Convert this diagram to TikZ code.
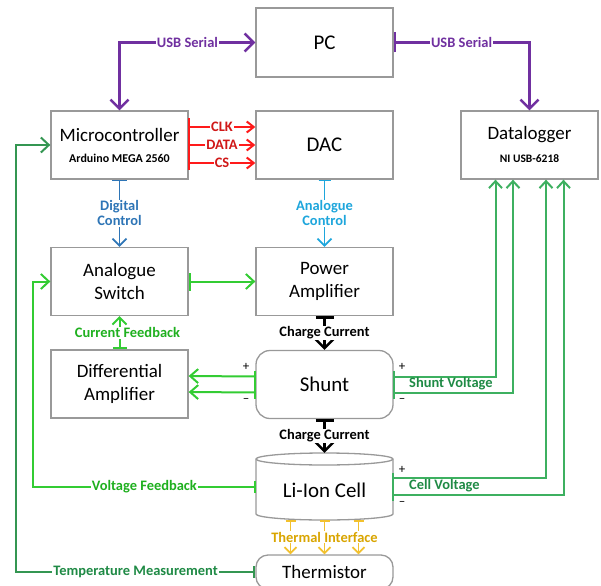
\documentclass[tikz,border=0pt]{standalone}
\usepackage{fontspec}
\setmainfont{Carlito}
\usetikzlibrary{arrows.meta}
\definecolor{cpurple}{HTML}{7030A0}
\definecolor{cred}{HTML}{FF1A1A}
\definecolor{credt}{HTML}{D01818}
\definecolor{cdblue}{HTML}{2E75B6}
\definecolor{clblue}{HTML}{1EA6DC}
\definecolor{cbgreen}{HTML}{33CC33}
\definecolor{cbgreent}{HTML}{1FB01F}
\definecolor{cmgreen}{HTML}{3DB060}
\definecolor{cmgreent}{HTML}{1F8A45}
\definecolor{cgold}{HTML}{F2C12E}
\definecolor{cgoldt}{HTML}{D9A500}
\definecolor{cborder}{HTML}{999999}
\tikzset{
  box/.style={draw=cborder, line width=1.3bp, fill=white, minimum width=137bp,
    minimum height=68bp, inner sep=0pt, align=center, font=\fontsize{19}{23}\selectfont},
  bigtxt/.style={font=\fontsize{21}{25}\selectfont},
  lab/.style={font=\bfseries\fontsize{14.5}{15}\selectfont, fill=white, inner sep=1bp, align=center},
  sign/.style={font=\fontsize{13}{14}\selectfont, inner sep=0pt},
  purplewire/.style={draw=cpurple, line width=2.5bp},
  redwire/.style={draw=cred, line width=2bp, -{Straight Barb[length=7bp,width=11bp]}},
  bgwire/.style={draw=cbgreen, line width=2bp},
  mgwire/.style={draw=cmgreen, line width=2bp},
  blackwire/.style={draw=black, line width=2.5bp, {Bar[width=18bp]}-{Straight Barb[length=9bp,width=18bp]}},
  goldwire/.style={draw=cgold, line width=1.8bp, {Bar[width=10bp]}-{Straight Barb[length=6bp,width=12bp]}},
}
\begin{document}
\begin{tikzpicture}[x=1bp,y=-1bp]
\useasboundingbox (0,0) rectangle (601,586);
% boxes
\node[box, bigtxt, minimum height=69bp] (pc) at (324.5,42.5) {PC};
\node[box] (mc) at (119.5,145) {};
\node[inner sep=0pt] (mct) at (119.5,135) {\fontsize{19}{23}\selectfont Microcontroller};
\node[inner sep=0pt] (mcs) at (119.5,158) {\bfseries\fontsize{12}{13}\selectfont Arduino MEGA 2560};
\node[box, bigtxt] (dac) at (324.5,145) {DAC};
\node[box] (dl) at (529.5,145) {};
\node[inner sep=0pt] (dlt) at (529.5,135) {\fontsize{19}{23}\selectfont Datalogger};
\node[inner sep=0pt] (dls) at (529.5,159) {\bfseries\fontsize{11.5}{13}\selectfont NI USB-6218};
\node[box] (as) at (119.5,281.5) {Analogue\\Switch};
\node[box] (pa) at (324.5,281.5) {Power\\Amplifier};
\node[box] (da) at (119.5,384) {Differential\\Amplifier};
\node[box, bigtxt, rounded corners=14bp] (sh) at (324.5,384.5) {Shunt};
% cylinder
\path[draw=cborder, line width=1.3bp, fill=white] (256,459) -- (256,514)
  arc[start angle=180, end angle=0, x radius=68.5, y radius=6] -- (393,459)
  arc[start angle=0, end angle=-180, x radius=68.5, y radius=6] -- cycle;
\draw[cborder, line width=1.3bp] (256,459) arc[start angle=180, end angle=0, x radius=68.5, y radius=6];
\node[minimum width=137bp, minimum height=67bp, inner sep=0pt] (cell) at (324.5,486.5) {};
\node[bigtxt, inner sep=0pt] (cellt) at (324.5,490) {Li-Ion Cell};
\node[box, rounded corners=12bp, minimum height=34bp] (th) at (324.5,572) {Thermistor};
% USB serial
\draw[purplewire, {Straight Barb[length=9bp,width=18bp]}-{Straight Barb[length=9bp,width=18bp]}]
  (pc.west) -| node[pos=0.25, lab, text=cpurple] (usb1) {USB Serial} (mc.north);
\draw[purplewire, {Bar[width=20bp]}-{Straight Barb[length=9bp,width=18bp]}]
  (pc.east) -| node[pos=0.25, lab, text=cpurple] (usb2) {USB Serial} (dl.north);
% CLK DATA CS
\draw[redwire] ([yshift=18bp]mc.east) -- node[lab, text=credt] (clk) {CLK} ([yshift=18bp]dac.west);
\draw[redwire] (mc.east) -- node[lab, text=credt] (data) {DATA} (dac.west);
\draw[redwire] ([yshift=-18bp]mc.east) -- node[lab, text=credt] (cs) {CS} ([yshift=-18bp]dac.west);
\draw[cred, line width=2bp] ([yshift=27bp]mc.east) -- ([yshift=-25bp]mc.east);
% controls
\draw[draw=cdblue, line width=1.8bp, {Bar[width=15bp]}-{Straight Barb[length=7bp,width=14bp]}]
  (mc.south) -- node[lab, text=cdblue] (dctl) {Digital\\Control} (as.north);
\draw[draw=clblue, line width=1.8bp, {Bar[width=12bp]}-{Straight Barb[length=7bp,width=14bp]}]
  (dac.south) -- node[lab, text=clblue] (actl) {Analogue\\Control} (pa.north);
% analogue switch to power amp
\draw[bgwire, {Bar[width=18bp]}-{Straight Barb[length=8bp,width=15bp]}] (as.east) -- (pa.west);
% current feedback
\draw[bgwire, {Bar[width=14bp]}-{Straight Barb[length=7bp,width=14bp]}]
  (da.north) -- node[lab, text=cbgreent, xshift=8bp] (cfb) {Current Feedback} (as.south);
% charge current
\draw[blackwire] (pa.south) -- node[lab] (cc1) {Charge Current} (sh.north);
\draw[blackwire] (sh.south) -- node[lab] (cc2) {Charge Current} (cell.north);
% shunt to differential amplifier
\draw[bgwire, -{Straight Barb[length=8bp,width=14bp]}] ([yshift=8bp]sh.west) -- ([yshift=8bp]da.east);
\draw[bgwire, -{Straight Barb[length=8bp,width=14bp]}] ([yshift=-8bp]sh.west) -- ([yshift=-8bp]da.east);
\draw[bgwire] ([yshift=14bp]sh.west) -- ([yshift=-14bp]sh.west);
\node[sign] (pl1) at (246,367) {+};
\node[sign] (mi1) at (246,400) {\textendash};
% shunt voltage to datalogger
\draw[mgwire, -{Straight Barb[length=7bp,width=13bp]}] ([yshift=8bp]sh.east) -| ([xshift=-34bp]dl.south);
\draw[mgwire, -{Straight Barb[length=7bp,width=13bp]}] ([yshift=-8bp]sh.east) -| ([xshift=-16.5bp]dl.south);
\draw[mgwire] ([yshift=14bp]sh.east) -- ([yshift=-14bp]sh.east);
\node[sign] (pl2) at (402,367) {+};
\node[sign] (mi2) at (402,400) {\textendash};
\node[font=\bfseries\fontsize{14.5}{15}\selectfont, text=cmgreent, anchor=west, inner sep=0pt] (shv) at (409,384) {Shunt Voltage};
% cell voltage to datalogger
\draw[mgwire, -{Straight Barb[length=7bp,width=13bp]}] ([yshift=8.5bp]cell.east) -| ([xshift=16.5bp]dl.south);
\draw[mgwire, -{Straight Barb[length=7bp,width=13bp]}] ([yshift=-8.5bp]cell.east) -| ([xshift=34bp]dl.south);
\draw[mgwire] ([yshift=14bp]cell.east) -- ([yshift=-14bp]cell.east);
\node[sign] (pl3) at (402,470) {+};
\node[sign] (mi3) at (402,503) {\textendash};
\node[font=\bfseries\fontsize{14.5}{15}\selectfont, text=cmgreent, anchor=west, inner sep=0pt] (cv) at (409,486) {Cell Voltage};
% voltage feedback
\coordinate (vfx) at (33,0);
\draw[bgwire, {Bar[width=12bp]}-{Straight Barb[length=8bp,width=15bp]}]
  (cell.west) -- node[lab, text=cbgreent] (vfb) {Voltage Feedback} (cell.west -| vfx) |- (as.west);
% temperature measurement
\coordinate (tmx) at (16,0);
\draw[draw=cmgreen!85!black, line width=2bp, {Bar[width=12bp]}-{Straight Barb[length=8bp,width=15bp]}]
  (th.west) -- node[lab, text=cmgreent] (tmm) {Temperature Measurement} (th.west -| tmx) |- (mc.west);
% thermal interface
\draw[goldwire] ([xshift=-34bp]cell.south) -- ([xshift=-34bp]th.north);
\draw[goldwire] (cell.south) -- (th.north);
\draw[goldwire] ([xshift=34bp]cell.south) -- ([xshift=34bp]th.north);
\node[lab, text=cgoldt, fill=white] (ti) at (324.5,537) {Thermal Interface};
\end{tikzpicture}
\end{document}
